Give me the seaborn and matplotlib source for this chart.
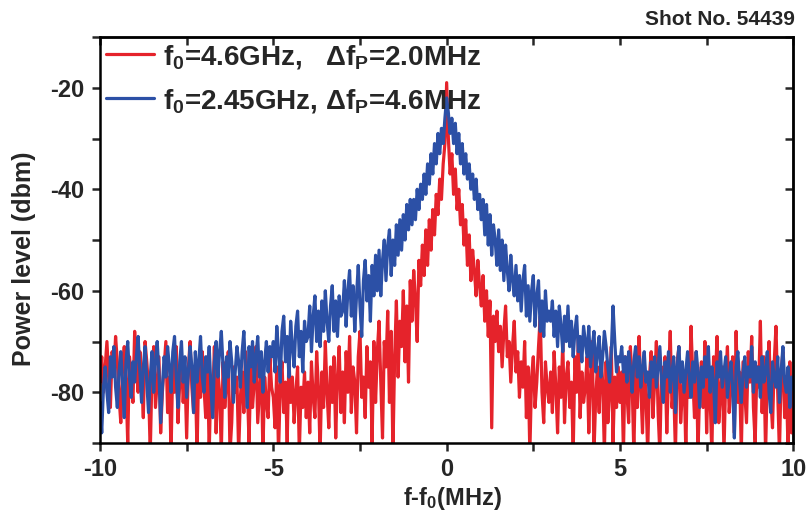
import numpy as np
import pandas as pd
import matplotlib
matplotlib.use("Agg")
import matplotlib.pyplot as plt
import seaborn as sns
from matplotlib.ticker import MultipleLocator, NullFormatter, FixedLocator
from matplotlib.lines import Line2D

# ---------------- data ----------------
freq = np.round(np.linspace(-10, 10, 401), 2)   # 0.05 MHz grid

red_power = [
    # -10 .. -9.05
    -78, -73, -80, -75, -70, -77, -83, -72, -76, -69, -74, -81, -86, -75, -71, -78, -90, -73, -77, -82,
    # -9 .. -8.05
    -68, -75, -80, -72, -77, -85, -70, -74, -79, -92, -76, -71, -83, -78, -73, -88, -80, -75, -70, -84,
    # -8 .. -7.05
    -77, -92, -74, -80, -71, -86, -78, -73, -82, -76, -89, -75, -70, -79, -84, -77, -92, -74, -81, -72,
    # -7 .. -6.05
    -79, -85, -73, -92, -77, -82, -71, -88, -76, -80, -92, -74, -83, -78, -72, -92, -86, -75, -80, -77,
    # -6 .. -5.05
    -92, -81, -76, -84, -72, -79, -90, -75, -83, -78, -71, -86, -80, -74, -92, -77, -82, -85, -73, -79,
    # -5 .. -4.05
    -81, -87, -75, -92, -79, -74, -84, -78, -90, -73, -82, -77, -86, -80, -75, -92, -79, -83, -76, -85,
    # -4 .. -3.05
    -78, -88, -74, -81, -85, -72, -79, -92, -76, -83, -70, -80, -87, -75, -82, -73, -89, -77, -71, -84,
    # -3 .. -2.05
    -76, -86, -72, -80, -69, -84, -75, -78, -88, -73, -68, -81, -77, -85, -71, -79, -74, -90, -70, -82,
    # -2 .. -1.05
    -72, -66, -78, -89, -70, -75, -64, -82, -68, -92, -73, -62, -77, -66, -71, -60, -74, -63, -78, -58,
    # -1 .. -0.05
    -66, -56, -62, -70, -54, -59, -51, -57, -48, -55, -46, -52, -44, -49, -41, -45, -38, -42, -35, -31,
    # 0
    -19,
    # 0.05 .. 0.95
    -30, -37, -33, -41, -36, -44, -40, -47, -43, -51, -46, -55, -49, -58, -52, -56, -61, -54, -59,
    # 1 .. 1.95
    -63, -57, -66, -60, -69, -62, -87, -65, -70, -64, -72, -67, -75, -68, -63, -73, -70, -78, -71, -66,
    # 2 .. 2.95
    -76, -72, -81, -74, -79, -70, -85, -75, -92, -77, -73, -83, -78, -71, -65, -80, -86, -74, -79, -82,
    # 3 .. 3.95
    -76, -84, -72, -79, -88, -75, -81, -70, -86, -77, -74, -83, -78, -92, -73, -80, -69, -85, -76, -82,
    # 4 .. 4.95
    -79, -73, -88, -77, -70, -92, -81, -75, -84, -72, -78, -92, -74, -86, -80, -71, -90, -77, -83, -75,
    # 5 .. 5.95
    -82, -76, -92, -73, -80, -86, -71, -78, -92, -75, -83, -69, -79, -88, -74, -81, -92, -77, -72, -85,
    # 6 .. 6.95
    -78, -70, -84, -92, -75, -81, -73, -88, -77, -68, -83, -79, -92, -74, -71, -86, -80, -76, -92, -73,
    # 7 .. 7.95
    -81, -67, -77, -85, -72, -92, -79, -74, -83, -70, -88, -76, -81, -92, -73, -78, -69, -86, -80, -75,
    # 8 .. 8.95
    -92, -77, -71, -84, -79, -73, -88, -68, -82, -76, -92, -74, -80, -86, -72, -78, -69, -83, -90, -75,
    # 9 .. 9.95
    -79, -66, -84, -73, -92, -77, -70, -81, -87, -74, -67, -80, -92, -76, -72, -85, -78, -92, -74, -88,
    # 10
    -80,
]

blue_power = [
    # -10 .. -9.05
    -82, -88, -79, -75, -80, -84, -73, -77, -71, -79, -83, -76, -72, -78, -85, -74, -70, -77, -81, -74,
    # -9 .. -8.05
    -78, -73, -69, -76, -82, -75, -71, -78, -84, -77, -72, -80, -74, -70, -76, -86, -79, -73, -77, -71,
    # -8 .. -7.05
    -75, -80, -72, -69, -77, -83, -74, -70, -78, -73, -81, -76, -71, -75, -84, -72, -78, -74, -69, -77,
    # -7 .. -6.05
    -80, -73, -76, -71, -79, -85, -74, -70, -77, -72, -68, -75, -81, -73, -77, -70, -74, -82, -76, -71,
    # -6 .. -5.05
    -74, -79, -72, -68, -76, -83, -71, -75, -70, -78, -73, -69, -77, -72, -80, -74, -70, -76, -71, -73,
    # -5 .. -4.05
    -70, -76, -67, -72, -78, -68, -65, -74, -69, -77, -66, -71, -75, -67, -64, -73, -68, -76, -66, -70,
    # -4 .. -3.05
    -69, -63, -72, -65, -61, -70, -64, -71, -62, -68, -60, -66, -70, -63, -59, -68, -62, -69, -61, -65,
    # -3 .. -2.05
    -64, -58, -67, -60, -56, -65, -59, -68, -61, -55, -63, -69, -58, -54, -62, -57, -66, -55, -61, -53,
    # -2 .. -1.05
    -60, -52, -61, -54, -50, -58, -51, -48, -57, -50, -55, -47, -53, -46, -52, -45, -50, -43, -48, -42,
    # -1 .. -0.05
    -47, -42, -46, -40, -44, -39, -42, -37, -41, -35, -39, -33, -37, -31, -35, -29, -33, -28, -31, -26,
    # 0
    -22,
    # 0.05 .. 0.95
    -25, -29, -26, -31, -27, -33, -29, -35, -31, -37, -33, -38, -35, -40, -37, -42, -38, -44, -41,
    # 1 .. 1.95
    -46, -42, -49, -43, -51, -45, -53, -47, -50, -55, -48, -56, -50, -58, -51, -56, -60, -53, -58, -61,
    # 2 .. 2.95
    -55, -62, -57, -64, -58, -55, -65, -59, -66, -60, -57, -67, -61, -58, -68, -62, -69, -60, -66, -64,
    # 3 .. 3.95
    -66, -62, -69, -64, -71, -63, -67, -72, -65, -70, -63, -71, -66, -73, -68, -65, -72, -69, -74, -67,
    # 4 .. 4.95
    -70, -73, -67, -75, -71, -68, -76, -72, -69, -77, -73, -68, -71, -75, -78, -72, -63, -70, -76, -73,
    # 5 .. 5.95
    -74, -71, -76, -73, -78, -72, -75, -80, -74, -71, -77, -73, -79, -75, -72, -78, -76, -81, -74, -77,
    # 6 .. 6.95
    -73, -79, -75, -71, -78, -82, -74, -77, -72, -80, -76, -73, -84, -75, -71, -78, -74, -80, -76, -72,
    # 7 .. 7.95
    -77, -81, -74, -78, -72, -76, -83, -75, -79, -73, -77, -71, -80, -75, -78, -86, -74, -77, -72, -79,
    # 8 .. 8.95
    -76, -73, -81, -77, -74, -79, -89, -75, -72, -78, -82, -76, -73, -79, -75, -77, -71, -80, -74, -78,
    # 9 .. 9.95
    -75, -81, -73, -78, -76, -72, -80, -84, -74, -77, -79, -73, -82, -76, -71, -78, -80, -75, -83, -77,
    # 10
    -79,
]

series_labels = [r"f$_0$=4.6GHz,   $\Delta$f$_P$=2.0MHz",
                 r"f$_0$=2.45GHz, $\Delta$f$_P$=4.6MHz"]
series_colors = ["#E5232B", "#2C50A6"]

x_major_ticks = [-10, -5, 0, 5, 10]
y_major_ticks = [-80, -60, -40, -20]

# ---------------- style ----------------
sns.set_style("ticks")
plt.rcParams["font.family"] = ["Liberation Sans", "DejaVu Sans"]
plt.rcParams["font.weight"] = "bold"
plt.rcParams["axes.unicode_minus"] = False
plt.rcParams["mathtext.fontset"] = "custom"
plt.rcParams["mathtext.rm"] = "Liberation Sans:bold"
plt.rcParams["mathtext.it"] = "Liberation Sans:bold"
plt.rcParams["mathtext.bf"] = "Liberation Sans:bold"
plt.rcParams["mathtext.default"] = "regular"

df = pd.DataFrame({
    "f": np.concatenate([freq, freq]),
    "p": red_power + blue_power,
    "series": [series_labels[0]] * len(freq) + [series_labels[1]] * len(freq),
})

fig = plt.figure(figsize=(8.09, 5.11), dpi=100)
ax = fig.add_axes([0.1236, 0.133, 0.857, 0.7946])

sns.lineplot(data=df, x="f", y="p", hue="series", hue_order=series_labels,
             palette=series_colors, estimator=None, lw=2.3, ax=ax, legend=False)

ax.set_xlim(-10, 10)
ax.set_ylim(-90, -10)

lw_sp = 1.8
for s in ax.spines.values():
    s.set_linewidth(lw_sp)
    s.set_color("black")
    s.set_visible(True)

ax.xaxis.set_major_locator(FixedLocator(x_major_ticks))
ax.xaxis.set_minor_locator(MultipleLocator(2.5))
ax.yaxis.set_major_locator(FixedLocator(y_major_ticks))
ax.yaxis.set_minor_locator(FixedLocator([-90, -70, -50, -30, -10]))
ax.tick_params(which="both", direction="out", length=6, width=lw_sp,
               labelsize=17, pad=5, top=False, right=False)
for lab in ax.get_xticklabels() + ax.get_yticklabels():
    lab.set_fontweight("bold")

# mirrored ticks pointing inward on top and right
secx = ax.secondary_xaxis("top")
secx.xaxis.set_major_locator(FixedLocator(x_major_ticks))
secx.xaxis.set_minor_locator(MultipleLocator(2.5))
secx.xaxis.set_major_formatter(NullFormatter())
secx.tick_params(which="both", direction="in", length=6, width=lw_sp)
secx.spines["top"].set_linewidth(lw_sp)

secy = ax.secondary_yaxis("right")
secy.yaxis.set_major_locator(MultipleLocator(10))
secy.yaxis.set_major_formatter(NullFormatter())
secy.tick_params(which="both", direction="in", length=6, width=lw_sp)
secy.spines["right"].set_linewidth(lw_sp)

ax.set_xlabel(r"f-f$_0$(MHz)", fontsize=17, fontweight="bold")
ax.xaxis.set_label_coords(0.509, -0.104)
ax.set_ylabel("Power level (dbm)", fontsize=18, fontweight="bold")
ax.yaxis.set_label_coords(-0.093, 0.453)

handles = [Line2D([], [], color=c, lw=2.3) for c in series_colors]
ax.legend(handles, series_labels, loc="upper left", bbox_to_anchor=(0.0, 1.0),
          frameon=False, handlelength=1.75, handletextpad=0.32,
          labelspacing=0.58, borderpad=0.15, borderaxespad=0.05,
          prop={"weight": "bold", "size": 20})

fig.text(0.982, 0.962, "Shot No. 54439", ha="right", va="center",
         fontsize=15, fontweight="bold")

fig.savefig("out.png", dpi=100)
